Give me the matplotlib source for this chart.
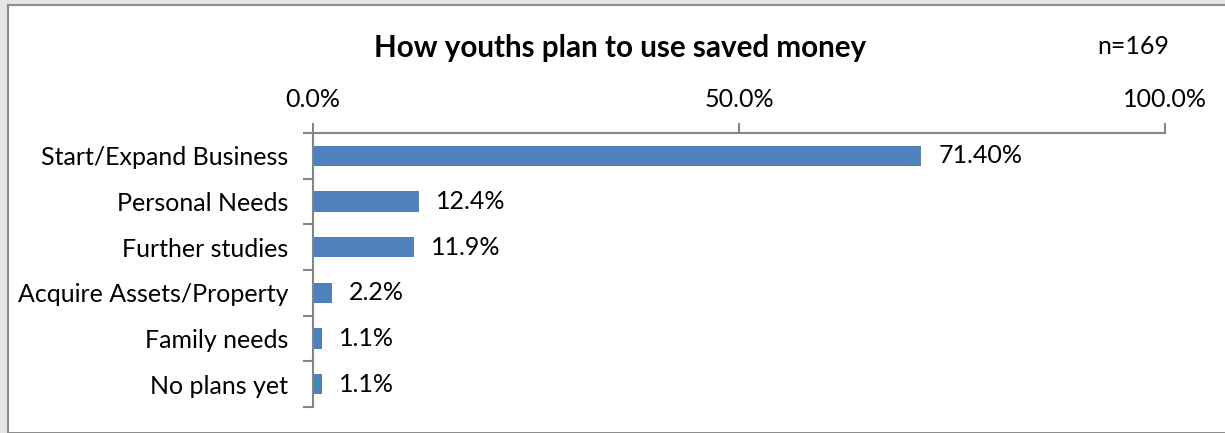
import matplotlib.pyplot as plt
from matplotlib.patches import Rectangle
from matplotlib.ticker import FixedLocator

# data
categories = ['Start/Expand Business', 'Personal Needs', 'Further studies',
              'Acquire Assets/Property', 'Family needs', 'No plans yet']
values = [71.4, 12.4, 11.9, 2.2, 1.1, 1.1]
value_labels = ['71.40%', '12.4%', '11.9%', '2.2%', '1.1%', '1.1%']
x_ticks = [0, 50, 100]
x_tick_labels = ['0.0%', '50.0%', '100.0%']

plt.rcParams['font.family'] = ['Lato', 'DejaVu Sans']
fs = 18

W, H = 1225, 433
fig = plt.figure(figsize=(W / 100, H / 100), dpi=100)
fig.patch.set_facecolor('#e6e6e6')

# white chart area with a grey frame, behind the axes
fig.patches.append(Rectangle((8 / W, 0), 1, 1 - 5 / H, transform=fig.transFigure,
                             facecolor='white', edgecolor='#8c8c8c', linewidth=1.5,
                             zorder=-5))

ax = fig.add_axes([313 / W, 1 - 407 / H, (1165 - 313) / W, (407 - 133) / H])
ax.set_facecolor('none')

pos = list(range(len(categories)))
ax.barh(pos, values, height=0.44, color='#4F81BD')
ax.set_xlim(0, 100)
ax.set_ylim(len(categories) - 0.5, -0.5)

for p, v, lab in zip(pos, values, value_labels):
    ax.text(v + 2, p, lab, va='center', ha='left', fontsize=fs, color='black')

ax.xaxis.tick_top()
ax.set_xticks(x_ticks)
ax.set_xticklabels(x_tick_labels, fontsize=fs)
ax.set_yticks(pos)
ax.set_yticklabels(categories, fontsize=fs)
ax.yaxis.set_major_locator(FixedLocator(pos))
ax.yaxis.set_minor_locator(FixedLocator([p + 0.5 for p in [-1] + pos]))
ax.tick_params(axis='y', which='major', length=0, pad=18)
ax.tick_params(axis='y', which='minor', length=7, color='#868686', width=1.5)
ax.tick_params(axis='x', length=7, color='#868686', width=1.5, pad=9)

for s in ['right', 'bottom']:
    ax.spines[s].set_visible(False)
for s in ['top', 'left']:
    ax.spines[s].set_color('#868686')
    ax.spines[s].set_linewidth(1.5)

fig.text(620 / W, 1 - 48 / H, 'How youths plan to use saved money', ha='center',
         va='center', fontsize=21.3, fontweight='bold')
fig.text(1133 / W, 1 - 47 / H, 'n=169', ha='center', va='center', fontsize=fs)

plt.savefig('out.png', dpi=100)
